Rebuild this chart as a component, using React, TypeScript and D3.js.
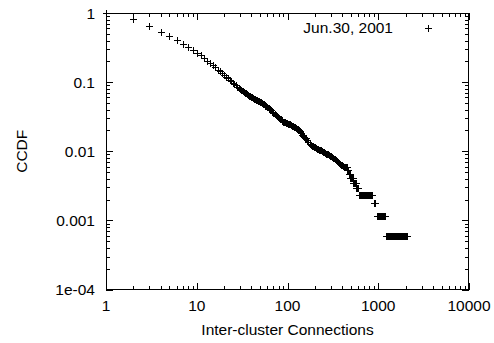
import React from "react";
import * as d3 from "d3";

// CCDF of inter-cluster connections, snapshot of Jun.30, 2001
// [connections, fraction of clusters with at least that many]
const ccdfHead: [number, number][] = [
  [1, 1], [2, 0.811], [3, 0.655], [4, 0.531], [5, 0.465], [6, 0.407], [7, 0.362],
  [8, 0.322], [9, 0.292], [10, 0.264], [11, 0.243], [12, 0.223], [13, 0.205],
  [14, 0.189], [15, 0.174], [16, 0.163], [17, 0.1522], [18, 0.1429], [19, 0.1345],
  [20, 0.1271], [21, 0.1201], [22, 0.1143], [23, 0.1083], [24, 0.1034], [25, 0.0983],
  [26, 0.0939], [27, 0.0899], [28, 0.0861], [29, 0.0827], [30, 0.0795],
];

const ccdfBody: [number, number][] = [
  [31, 0.0771], [32, 0.0748], [33, 0.0727], [34, 0.0707], [35, 0.069], [36, 0.0673],
  [37, 0.0655], [38, 0.0638], [39, 0.0625], [40, 0.0613], [41, 0.0601], [42, 0.0589],
  [43, 0.0579], [44, 0.0569], [45, 0.0559], [46, 0.0549], [47, 0.0541], [48, 0.0534],
  [49, 0.0527], [50, 0.052], [51, 0.0511], [52, 0.0502], [53, 0.0493], [54, 0.0484],
  [55, 0.0475], [56, 0.0466], [57, 0.0458], [58, 0.0451], [59, 0.0443], [60, 0.0435],
  [62, 0.0422], [64, 0.0409], [66, 0.0392], [68, 0.0374], [70, 0.0359], [72, 0.0347],
  [74, 0.0335], [76, 0.0324], [78, 0.0315], [80, 0.0304], [82, 0.0295], [84, 0.0288],
  [86, 0.028], [88, 0.0274], [90, 0.0267], [92, 0.0264], [94, 0.0261], [96, 0.0258],
  [98, 0.0255], [100, 0.0252], [103, 0.0248], [106, 0.0244], [109, 0.0239], [112, 0.0235],
  [115, 0.023], [118, 0.0226], [121, 0.0222], [124, 0.0217], [127, 0.0213], [130, 0.0208],
  [133, 0.0203], [136, 0.0198], [139, 0.019], [142, 0.0181], [145, 0.0173], [148, 0.0166],
  [151, 0.0161], [155, 0.0157], [160, 0.0153], [165, 0.0146], [170, 0.0135], [175, 0.0126],
  [180, 0.0122], [185, 0.012], [190, 0.0118], [195, 0.0116], [200, 0.0114], [205, 0.0111],
  [210, 0.0109], [215, 0.0107], [220, 0.0106], [225, 0.0105], [230, 0.0105], [235, 0.0103],
  [240, 0.0101], [245, 0.0099], [250, 0.00977], [255, 0.0096], [260, 0.00942], [265, 0.00926],
  [270, 0.00911], [275, 0.00905], [280, 0.00899], [285, 0.00885], [290, 0.0087], [295, 0.00855],
  [300, 0.00841], [310, 0.00813], [320, 0.00787], [330, 0.00761], [340, 0.00741],
  [350, 0.00717], [360, 0.00693], [370, 0.00671], [380, 0.00651], [390, 0.00638],
  [400, 0.00625], [410, 0.00612], [420, 0.00599], [430, 0.00592],
];

// Upper tail: flat steps of the CCDF, [first, last, fraction]; drawn at every integer count
const ccdfTailSteps: [number, number, number][] = [
  [440, 455, 0.00585], [456, 470, 0.00527], [471, 492, 0.00468], [493, 530, 0.0041],
  [531, 565, 0.00351], [575, 598, 0.00293], [612, 862, 0.00234], [900, 920, 0.00176],
  [966, 1190, 0.00117], [1230, 2050, 0.000585],
];

const xTickValues = [1, 10, 100, 1000, 10000];
const xTickLabels = ["1", "10", "100", "1000", "10000"];
const yTickValues = [1, 0.1, 0.01, 0.001, 0.0001];
const yTickLabels = ["1", "0.1", "0.01", "0.001", "1e-04"];

const seriesLabel = "Jun.30, 2001";
const xTitle = "Inter-cluster Connections";
const yTitle = "CCDF";

const W = 494;
const H = 343;
const plot = { left: 106, right: 469, top: 13, bottom: 289.5 };
const FONT = "'Liberation Sans', Arial, Helvetica, sans-serif";
const MAJOR = 7;
const MINOR = 4;

function plusPath(px: number, py: number, half = 3.5) {
  const cx = Math.round(px) + 0.5;
  const cy = Math.round(py) + 0.5;
  return `M${cx - half},${cy}H${cx + half}M${cx},${cy - half}V${cy + half}`;
}

export default function App() {
  const x = d3.scaleLog().domain([1, 10000]).range([plot.left, plot.right]);
  const y = d3.scaleLog().domain([1e-4, 1]).range([plot.bottom, plot.top]);

  const minorX: number[] = [];
  for (let d = 1; d < 10000; d *= 10) for (let k = 2; k <= 9; k++) minorX.push(d * k);
  const minorY: number[] = [];
  for (let d = 1e-4; d < 0.99; d *= 10) for (let k = 2; k <= 9; k++) minorY.push(d * k);

  const tailPoints: [number, number][] = [];
  ccdfTailSteps.forEach(([from, to, v]) => {
    for (let c = from; c <= to; c++) tailPoints.push([c, v]);
  });
  const points = [...ccdfHead, ...ccdfBody, ...tailPoints];

  let tickPath = "";
  const addXTick = (v: number, len: number) => {
    const px = Math.round(x(v)) + 0.5;
    tickPath += `M${px},${plot.bottom}V${plot.bottom - len}M${px},${plot.top}V${plot.top + len}`;
  };
  const addYTick = (v: number, len: number) => {
    const py = Math.round(y(v)) + 0.5;
    tickPath += `M${plot.left},${py}H${plot.left + len}M${plot.right},${py}H${plot.right - len}`;
  };
  xTickValues.forEach((v) => addXTick(v, MAJOR));
  minorX.forEach((v) => addXTick(v, MINOR));
  yTickValues.forEach((v) => addYTick(v, MAJOR));
  minorY.forEach((v) => addYTick(v, MINOR));

  const markerPath = points.map(([cx, cy]) => plusPath(x(cx), y(cy))).join("");

  return (
    <svg
      width={W}
      height={H}
      viewBox={`0 0 ${W} ${H}`}
      style={{ position: "absolute", left: 0, top: 0, background: "#fff" }}
      fontFamily={FONT}
      fontSize={15.5}
    >
      <rect x={0} y={0} width={W} height={H} fill="#fff" />
      <path d={tickPath} stroke="#000" strokeWidth={1} fill="none" shapeRendering="crispEdges" />
      <rect
        x={plot.left + 0.5}
        y={plot.top + 0.5}
        width={plot.right - plot.left - 1}
        height={plot.bottom - plot.top - 1}
        fill="none"
        stroke="#000"
        strokeWidth={1}
        shapeRendering="crispEdges"
      />

      {yTickValues.map((v, i) => (
        <text key={`yl${i}`} x={95} y={y(v) + 5.5} textAnchor="end" fill="#000">
          {yTickLabels[i]}
        </text>
      ))}
      {xTickValues.map((v, i) => (
        <text key={`xl${i}`} x={x(v)} y={311} textAnchor="middle" fill="#000">
          {xTickLabels[i]}
        </text>
      ))}

      <text x={(plot.left + plot.right) / 2} y={335} textAnchor="middle" fill="#000">
        {xTitle}
      </text>
      <text
        transform={`translate(26.5, ${(plot.top + plot.bottom) / 2}) rotate(-90)`}
        textAnchor="middle"
        fill="#000"
      >
        {yTitle}
      </text>

      <path d={markerPath} stroke="#000" strokeWidth={1} fill="none" shapeRendering="crispEdges" />

      <text x={393} y={33} textAnchor="end" fill="#000">
        {seriesLabel}
      </text>
      <path d={plusPath(427.7, 28)} stroke="#000" strokeWidth={1} fill="none" shapeRendering="crispEdges" />
    </svg>
  );
}
